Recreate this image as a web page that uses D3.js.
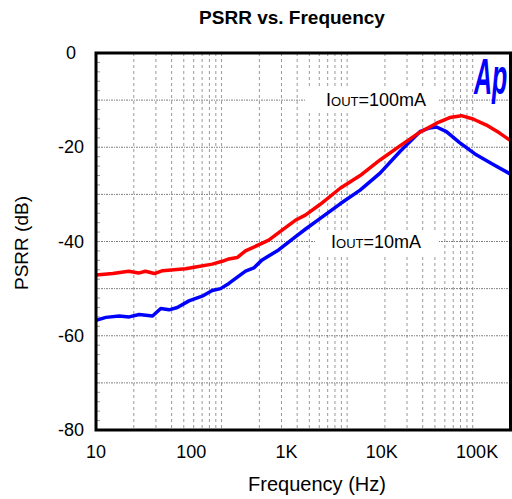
<!DOCTYPE html>
<html>
<head>
<meta charset="utf-8">
<script src="https://cdn.jsdelivr.net/npm/d3@7"></script>
<style>
  body { margin: 0; background: #fff; }
  text { font-family: "Liberation Sans", Arial, sans-serif; }
</style>
</head>
<body>
<svg id="chart" width="512" height="499"></svg>
<script>
// data (frequency in Hz, PSRR in dB)
var freq100 = [10, 15, 22, 28, 33, 41, 50, 87, 111, 166, 211, 248, 303, 371, 453, 650, 897, 1236, 1573, 2258, 3654, 5916, 9577, 15500, 25090, 37530, 51700, 68500, 90600, 125100, 172400, 224000];
var psrr100 = [-47.1, -46.8, -46.3, -46.7, -46.3, -46.8, -46.2, -45.8, -45.4, -44.8, -44.2, -43.7, -43.4, -42.0, -41.2, -39.7, -37.6, -35.5, -34.4, -32.1, -28.7, -26.0, -22.7, -19.7, -16.8, -14.9, -13.7, -13.3, -14.0, -15.3, -17.0, -18.6];

var freq10 = [10, 12.7, 17.5, 22.3, 28.4, 39.2, 47.8, 58.5, 71.4, 94.5, 130, 166, 203, 248, 371, 453, 554, 825, 1236, 1573, 2258, 3654, 5916, 9577, 15500, 25090, 31700, 37530, 47600, 65500, 98000, 146000, 224000];
var psrr10 = [-56.7, -56.1, -55.8, -56.0, -55.5, -55.8, -54.2, -54.5, -54.0, -52.6, -51.6, -50.4, -50.0, -48.9, -46.3, -45.6, -43.9, -41.8, -39.0, -37.4, -35.1, -32.0, -29.1, -25.5, -20.9, -16.7, -15.9, -15.7, -16.7, -19.0, -21.6, -23.6, -25.7];

var xTicks = [10, 100, 1000, 10000, 100000];
var xTickLabels = ["10", "100", "1K", "10K", "100K"];
var yTicks = [0, -20, -40, -60, -80];

var pLeft = 96, pRight = 510.5, pTop = 53, pBottom = 430;

var svg = d3.select("#chart");

// label/data axis
var x = d3.scaleLog().domain([10, 224000]).range([pLeft, pRight]);
// the grid of the original is drawn on its own (coarser) decade spacing
var xGrid = d3.scaleLog().domain([10, 20000]).range([pLeft, pRight]);
var y = d3.scaleLinear().domain([-80, 0]).range([pBottom, pTop]);

var gridX = [];
[10, 100, 1000].forEach(function (d) {
    for (var k = 2; k <= 10; k++) gridX.push(d * k);
});

var grid = svg.append("g");
grid.selectAll(".vg")
    .data(gridX)
    .enter().append("line")
    .attr("x1", function (d) { return xGrid(d); })
    .attr("x2", function (d) { return xGrid(d); })
    .attr("y1", pTop)
    .attr("y2", pBottom)
    .attr("stroke", "#999")
    .attr("stroke-width", 1)
    .attr("stroke-dasharray", "3,3");

grid.selectAll(".hg")
    .data(d3.range(-70, 0, 10))
    .enter().append("line")
    .attr("x1", pLeft)
    .attr("x2", pRight)
    .attr("y1", function (d) { return y(d); })
    .attr("y2", function (d) { return y(d); })
    .attr("stroke", "#808080")
    .attr("stroke-width", 1)
    .attr("stroke-dasharray", "2,1,1,1");

// minor ticks on the left edge, every 2 dB
grid.selectAll(".mt")
    .data(d3.range(-78, 0, 2))
    .enter().append("line")
    .attr("x1", pLeft)
    .attr("x2", pLeft + 4)
    .attr("y1", function (d) { return y(d); })
    .attr("y2", function (d) { return y(d); })
    .attr("stroke", "#999")
    .attr("stroke-width", 1);

// white boxes behind the annotations
svg.append("rect").attr("x", 306).attr("y", 88).attr("width", 133).attr("height", 24).attr("fill", "#fff");
svg.append("rect").attr("x", 316).attr("y", 232).attr("width", 123).attr("height", 24).attr("fill", "#fff");

svg.append("clipPath").attr("id", "clip")
    .append("rect").attr("x", pLeft).attr("y", pTop).attr("width", pRight - pLeft).attr("height", pBottom - pTop);

var line = d3.line()
    .x(function (d) { return x(d[0]); })
    .y(function (d) { return y(d[1]); });

var curves = svg.append("g").attr("clip-path", "url(#clip)");
curves.append("path")
    .datum(d3.zip(freq10, psrr10))
    .attr("d", line)
    .attr("fill", "none")
    .attr("stroke", "#0000ff")
    .attr("stroke-width", 3.5)
    .attr("stroke-linejoin", "round");
curves.append("path")
    .datum(d3.zip(freq100, psrr100))
    .attr("d", line)
    .attr("fill", "none")
    .attr("stroke", "#ff0000")
    .attr("stroke-width", 3.5)
    .attr("stroke-linejoin", "round");

// frame
svg.append("rect")
    .attr("x", pLeft).attr("y", pTop)
    .attr("width", pRight - pLeft).attr("height", pBottom - pTop)
    .attr("fill", "none")
    .attr("stroke", "#000")
    .attr("stroke-width", 3);

// tick labels
svg.selectAll(".xt")
    .data(xTicks)
    .enter().append("text")
    .attr("x", function (d) { return x(d); })
    .attr("y", 458)
    .attr("text-anchor", "middle")
    .attr("font-size", 18)
    .text(function (d, i) { return xTickLabels[i]; });

svg.selectAll(".yt")
    .data(yTicks)
    .enter().append("text")
    .attr("x", 71)
    .attr("y", function (d) { return y(d) + 6; })
    .attr("text-anchor", "middle")
    .attr("font-size", 18)
    .text(function (d) { return d; });

// titles
svg.append("text")
    .attr("x", 292).attr("y", 24)
    .attr("text-anchor", "middle")
    .attr("font-size", 19)
    .attr("font-weight", "bold")
    .text("PSRR vs. Frequency");

svg.append("text")
    .attr("x", 317).attr("y", 491)
    .attr("text-anchor", "middle")
    .attr("font-size", 20)
    .text("Frequency (Hz)");

svg.append("text")
    .attr("transform", "translate(28,243) rotate(-90)")
    .attr("text-anchor", "middle")
    .attr("font-size", 19)
    .text("PSRR (dB)");

// annotations
function label(tx, ty, rest) {
    var t = svg.append("text").attr("x", tx).attr("y", ty).attr("font-size", 18);
    t.append("tspan").text("I");
    t.append("tspan").attr("font-size", 13).text("OUT");
    t.append("tspan").text(rest);
}
label(326, 106, "=100mA");
label(331, 248, "=10mA");

// logo
svg.append("text")
    .attr("transform", "translate(474,94) scale(0.5,1)")
    .attr("font-size", 50)
    .attr("font-weight", "bold")
    .attr("font-style", "italic")
    .attr("fill", "#0000ff")
    .text("Ap");
</script>
</body>
</html>
